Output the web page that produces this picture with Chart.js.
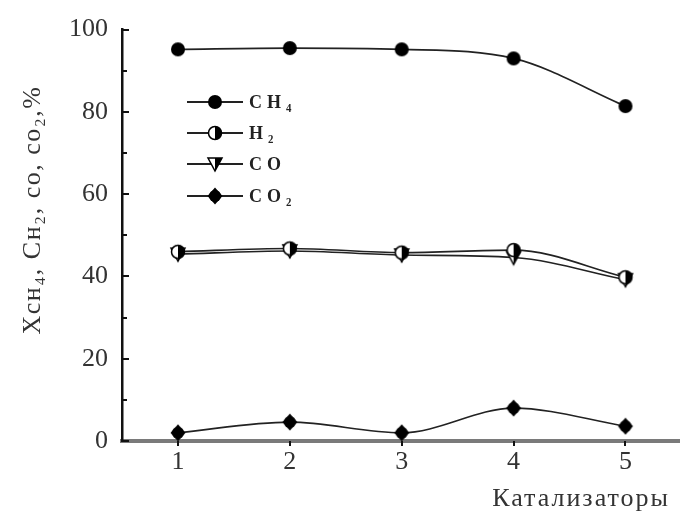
<!DOCTYPE html>
<html>
<head>
<meta charset="utf-8">
<script src="https://cdn.jsdelivr.net/npm/chart.js@4.4.1/dist/chart.umd.min.js"></script>
<style>
  html, body { margin: 0; padding: 0; background: #fff; width: 680px; height: 517px; overflow: hidden; }
  #wrap { width: 692px; height: 517px; position: relative; }
</style>
</head>
<body>
<div id="wrap"><canvas id="chart_line"></canvas></div>
<script>
'use strict';

// data
var catalysts = ['1', '2', '3', '4', '5'];
var ch4 = [95.2, 95.5, 95.2, 93.0, 81.4];
var h2  = [46.0, 46.8, 45.8, 46.4, 39.8];
var co  = [45.4, 46.2, 45.2, 44.6, 39.2];
var co2 = [2.0, 4.6, 2.0, 8.0, 3.6];
var yTicks = [0, 20, 40, 60, 80, 100];

var yTitle = 'Xсн₄, Cн₂, со, со₂,%';
var xTitle = 'Катализаторы';

// marker images
function marker(kind) {
    var c = document.createElement('canvas');
    c.width = 18; c.height = 18;
    var g = c.getContext('2d');
    g.fillStyle = '#000';
    g.strokeStyle = '#000';
    g.lineWidth = 1.5;
    if (kind === 'circle') {
        g.beginPath(); g.arc(9, 9, 7, 0, Math.PI * 2); g.fill();
    } else if (kind === 'half') {
        g.beginPath(); g.arc(9, 9, 6.5, 0, Math.PI * 2);
        g.fillStyle = '#fff'; g.fill(); g.stroke();
        g.beginPath(); g.arc(9, 9, 6.5, -Math.PI / 2, Math.PI / 2); g.closePath();
        g.fillStyle = '#000'; g.fill();
    } else if (kind === 'tri') {
        g.beginPath(); g.moveTo(2, 3); g.lineTo(16, 3); g.lineTo(9, 16); g.closePath();
        g.fillStyle = '#fff'; g.fill(); g.stroke();
        g.beginPath(); g.moveTo(9, 3); g.lineTo(16, 3); g.lineTo(9, 16); g.closePath();
        g.fillStyle = '#000'; g.fill();
    } else {
        g.beginPath(); g.moveTo(9, 0.5); g.lineTo(16.5, 9); g.lineTo(9, 17.5); g.lineTo(1.5, 9); g.closePath(); g.fill();
        g.beginPath(); g.arc(9, 9, 6, 0, Math.PI * 2); g.fill();
    }
    return c;
}

var styles = {
    ch4: marker('circle'),
    h2: marker('half'),
    co: marker('tri'),
    co2: marker('diamond')
};

function ds(label, data, img) {
    return {
        label: label,
        data: data,
        borderColor: '#222',
        borderWidth: 1.6,
        pointStyle: img,
        pointRadius: 9,
        cubicInterpolationMode: 'monotone',
        fill: false
    };
}

// inward ticks, custom legend and axis titles
var decor = {
    id: 'decor',
    afterDraw: function(chart) {
        var ctx = chart.ctx;
        var ys = chart.scales.y, xs = chart.scales.x;
        var a = chart.chartArea;
        ctx.save();
        ctx.strokeStyle = '#111';
        ctx.lineWidth = 2;
        for (var v = 0; v <= 100; v += 10) {
            var py = Math.round(ys.getPixelForValue(v));
            var len = (v % 20 === 0) ? 7 : 5;
            ctx.beginPath(); ctx.moveTo(a.left, py); ctx.lineTo(a.left + len, py); ctx.stroke();
        }
        for (var i = 0; i < catalysts.length; i++) {
            var px = Math.round(xs.getPixelForValue(i));
            ctx.beginPath(); ctx.moveTo(px, a.bottom); ctx.lineTo(px, a.bottom + 5); ctx.stroke();
        }

        // legend
        var rows = [102, 133, 164, 196];
        ctx.font = 'bold 18px "Liberation Serif"';
        ctx.textBaseline = 'middle';
        ctx.fillStyle = '#222';
        chart.data.datasets.forEach(function(d, k) {
            var y = rows[k];
            ctx.strokeStyle = '#222';
            ctx.lineWidth = 2;
            ctx.beginPath(); ctx.moveTo(187, y); ctx.lineTo(243, y); ctx.stroke();
            ctx.drawImage(d.pointStyle, 206, y - 9);
            ctx.letterSpacing = '5px';
            ctx.fillText(d.label, 249, y + 1);
        });

        // axis titles
        ctx.letterSpacing = '2px';
        ctx.fillStyle = '#333';
        ctx.font = '26px "Liberation Serif"';
        ctx.textAlign = 'right';
        ctx.textBaseline = 'alphabetic';
        ctx.fillText(xTitle, 670, 506);

        ctx.translate(40, 210);
        ctx.rotate(-Math.PI / 2);
        ctx.textAlign = 'center';
        ctx.letterSpacing = '1.5px';
        ctx.fillText(yTitle, 0, 0);
        ctx.restore();
    }
};

var ctx = document.getElementById('chart_line').getContext('2d');
window.myLine = new Chart(ctx, {
    type: 'line',
    data: {
        labels: catalysts,
        datasets: [
            ds('CH₄', ch4, styles.ch4),
            ds('H₂', h2, styles.h2),
            ds('CO', co, styles.co),
            ds('CO₂', co2, styles.co2)
        ]
    },
    plugins: [decor],
    options: {
        responsive: true,
        maintainAspectRatio: false,
        animation: false,
        layout: { padding: { top: 18, right: 0, left: 0, bottom: 0 } },
        plugins: {
            legend: { display: false },
            tooltip: { enabled: false }
        },
        scales: {
            x: {
                offset: true,
                grid: { display: false, drawTicks: false },
                border: { color: '#7a7a7a', width: 4 },
                ticks: {
                    color: '#333',
                    font: { family: 'Liberation Serif', size: 26 },
                    padding: 6,
                    maxRotation: 0
                },
                afterFit: function(s) {
                    s.height = 76;
                }
            },
            y: {
                min: 0,
                max: 100,
                grid: { display: false, drawTicks: false },
                border: { color: '#111', width: 2.5 },
                afterBuildTicks: function(s) {
                    s.ticks = yTicks.map(function(v) { return { value: v }; });
                },
                ticks: {
                    color: '#333',
                    font: { family: 'Liberation Serif', size: 26 },
                    padding: 14
                },
                afterFit: function(s) { s.width = 122; }
            }
        }
    }
});
</script>
</body>
</html>
